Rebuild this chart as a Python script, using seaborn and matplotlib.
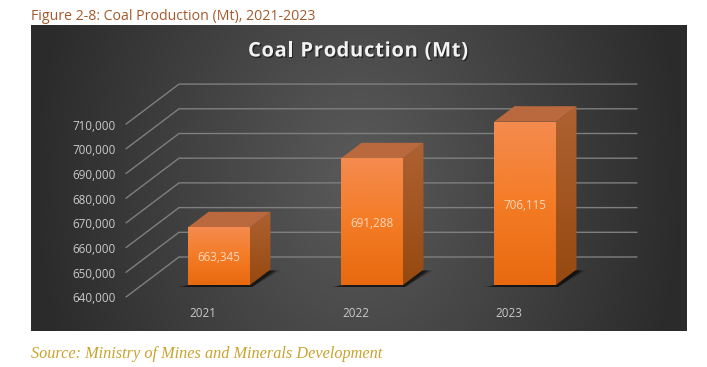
import numpy as np
import pandas as pd
import seaborn as sns
import matplotlib
matplotlib.use("Agg")
import matplotlib.pyplot as plt
from matplotlib.colors import LinearSegmentedColormap
from matplotlib.patches import Polygon
from matplotlib.transforms import Affine2D
import matplotlib.patheffects as pe

years = ["2021", "2022", "2023"]
production = [663345, 691288, 706115]
y_ticks = [640000, 650000, 660000, 670000, 680000, 690000, 700000, 710000]

W, H = 707, 367
DEPTH_X, DEPTH_Y = 20.5, 15.5


def gradient_fill(ax, patch, colors, zorder):
    # vertical gradient clipped to a patch, row 0 is the top on screen
    cmap = LinearSegmentedColormap.from_list("face", colors)
    x0, y0, x1, y1 = patch.get_window_extent().transformed(ax.transData.inverted()).extents
    img = ax.imshow(
        np.linspace(0, 1, 128).reshape(-1, 1),
        cmap=cmap,
        extent=[x0, x1, y0, y1],
        origin="upper",
        aspect="auto",
        zorder=zorder,
        interpolation="bilinear",
    )
    img.set_clip_path(patch)


sns.set_theme(style="dark")
plt.rcParams["font.family"] = ["Open Sans", "DejaVu Sans"]

fig = plt.figure(figsize=(W / 100, H / 100), dpi=100, facecolor="white")

# full figure layer in pixel coordinates, for the panel and the 3D look
bg = fig.add_axes([0, 0, 1, 1], zorder=0)
bg.set_axis_off()

# panel gradient, bright in the middle and dark toward the edges
xx, yy = np.meshgrid(np.linspace(-1, 1, 330), np.linspace(-1, 1, 153))
glow = np.clip(1 - np.sqrt(xx**2 + 0.12 * yy**2), 0, 1)
panel_cmap = LinearSegmentedColormap.from_list("panel", ["#2b2b2b", "#5a5a5a"])
bg.imshow(glow, cmap=panel_cmap, extent=[31, 687, 331, 25], aspect="auto", zorder=0)
bg.set_xlim(0, W)
bg.set_ylim(H, 0)

# front faces go through seaborn, on axes scaled to the value range
ax = fig.add_axes([142.5 / W, (H - 285) / H, 459 / W, 172.9 / H], zorder=1)
ax.patch.set_alpha(0)
df = pd.DataFrame({"year": years, "production": production})
sns.barplot(data=df, x="year", y="production", color="#F07A20", width=0.405, ax=ax, saturation=1)
ax.set_xlim(-0.5, 2.5)
ax.set_ylim(y_ticks[0], y_ticks[-1])
ax.set_yticks(y_ticks)
ax.set_yticklabels([f"{v:,}" for v in y_ticks])
ax.set_xlabel("")
ax.set_ylabel("")
ax.grid(False)
for s in ax.spines.values():
    s.set_visible(False)
ax.tick_params(axis="y", length=0, pad=19.5, labelsize=8.4, labelcolor="#c9c9c9")
ax.tick_params(axis="x", length=0, pad=16, labelsize=8.4, labelcolor="#c9c9c9")
for lab in ax.get_yticklabels():
    lab.set_transform(lab.get_transform() + Affine2D().translate(0, -12.5))
for lab in ax.get_xticklabels():
    lab.set_transform(lab.get_transform() + Affine2D().translate(-16, 0))

# bars start at the axis floor, not at zero
for bar in ax.patches:
    top_value = bar.get_y() + bar.get_height()
    bar.set_y(y_ticks[0])
    bar.set_height(top_value - y_ticks[0])
    bar.set_edgecolor("none")


def value_px(v):
    return H - ax.transData.transform((0, v))[1]


# gridlines: diagonal along the side wall, then flat along the back wall
for v in y_ticks:
    back_y = value_px(v) - 28
    bg.plot([126, 179, 637], [back_y + 40, back_y, back_y], color="#7f7f7f", lw=1.0, zorder=1)

# bar shadows, top and side faces, built from the drawn bars
for bar in ax.patches:
    x0, y0, x1, y1 = bar.get_window_extent().extents
    left, right = x0, x1
    top, bottom = H - y1, H - y0

    for grow, alpha in zip([7, 5, 3, 1], [0.1, 0.16, 0.25, 0.4]):
        bg.add_patch(Polygon(
            [(left - 4 - grow, bottom + 2), (right + 2, bottom + 2),
             (right + DEPTH_X + 3 + grow, bottom - DEPTH_Y + 1), (right, bottom - DEPTH_Y + 1)],
            closed=True, fc="black", ec="none", alpha=alpha, zorder=2))

    side = Polygon(
        [(right, top), (right + DEPTH_X, top - DEPTH_Y),
         (right + DEPTH_X, bottom - DEPTH_Y), (right, bottom)],
        closed=True, fc="none", ec="none", transform=bg.transData)
    bg.add_patch(side)
    gradient_fill(bg, side, ["#AE6232", "#96490F"], 3)

    bg.add_patch(Polygon(
        [(left, top), (left + DEPTH_X, top - DEPTH_Y),
         (right + DEPTH_X, top - DEPTH_Y), (right, top)],
        closed=True, fc="#B9693D", ec="none", zorder=3))

bg.set_xlim(0, W)
bg.set_ylim(H, 0)

# front face gradient
for bar in list(ax.patches):
    gradient_fill(ax, bar, ["#F48B4F", "#F47C26", "#E8690F"], 2)
ax.set_xlim(-0.5, 2.5)
ax.set_ylim(y_ticks[0], y_ticks[-1])

value_labels = ax.bar_label(ax.containers[0], labels=[f"{v:,}" for v in production],
                            label_type="center", color="#fbd8bd", fontsize=8.4, zorder=5)
for t in value_labels:
    t.xyann = (0, -1.2)

# texts
fig.text(31 / W, 1 - 16.5 / H, "Figure 2-8: Coal Production (Mt), 2021-2023", color="#A5592B",
         fontsize=10.15, va="center", ha="left")

# title has wide letter spacing, so place it one character at a time
title = "Coal Production (Mt)"
title_left, title_right = 248, 468
renderer = fig.canvas.get_renderer()
probe = fig.text(0, 0, title, fontsize=14.5, fontweight="bold")
plain_width = probe.get_window_extent(renderer).width
extra = (title_right - title_left - plain_width) / (len(title) - 1)
for i, ch in enumerate(title):
    probe.set_text(title[:i] + "|")
    prefix = probe.get_window_extent(renderer).width
    probe.set_text("|")
    prefix -= probe.get_window_extent(renderer).width
    fig.text((title_left + prefix + i * extra) / W, 1 - 56.5 / H, ch, color="#f2f2f2", fontsize=14.5,
             fontweight="bold", va="baseline", ha="left", zorder=3,
             path_effects=[pe.withSimplePatchShadow(offset=(1, -1), shadow_rgbFace="black", alpha=0.5)])
probe.remove()

fig.text(31 / W, 1 - 353.5 / H, "Source: Ministry of Mines and Minerals Development", color="#C9A32E",
         fontsize=11.7, style="italic", va="center", ha="left", family="Liberation Serif")

fig.savefig("out.png", dpi=100)
